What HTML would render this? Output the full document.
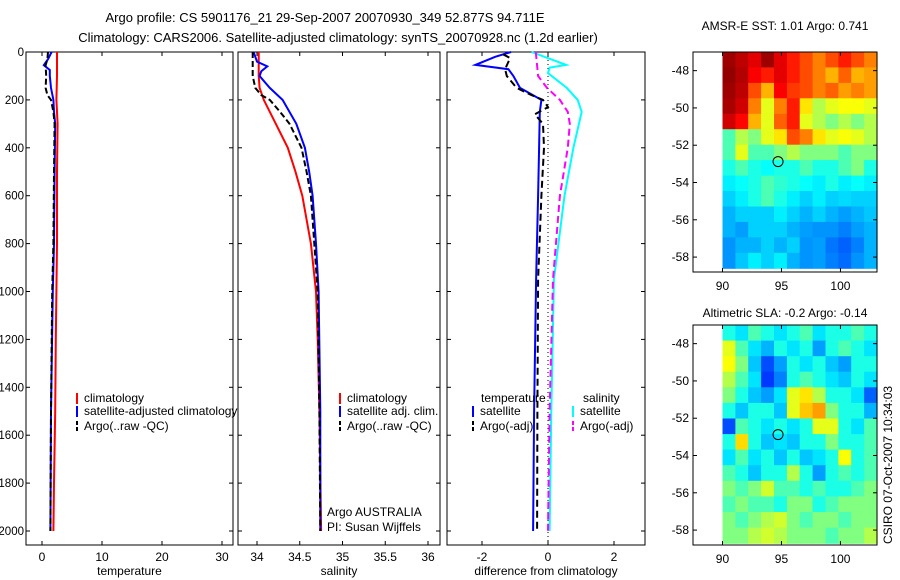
<!DOCTYPE html>
<html><head><meta charset="utf-8">
<style>
body{margin:0;background:#fff;}
svg{display:block;font-family:"Liberation Sans",sans-serif;}
text{fill:#000;}
</style></head>
<body>
<svg id="c" width="900" height="580" viewBox="0 0 900 580" xmlns="http://www.w3.org/2000/svg">
<text x="325" y="22" font-size="13" text-anchor="middle">Argo profile: CS 5901176_21 29-Sep-2007 20070930_349 52.877S 94.711E</text>
<text x="338" y="42" font-size="13" text-anchor="middle">Climatology: CARS2006. Satellite-adjusted climatology: synTS_20070928.nc (1.2d earlier)</text>
</svg>
<script>
// ---- data ----
const pTicks=[0,200,400,600,800,1000,1200,1400,1600,1800,2000];
const tTicks=[0,10,20,30];
const sTicks=[34,34.5,35,35.5,36];
const sTickLabels=["34","34.5","35","35.5","36"];
const dTicks=[-2,0,2];
const tempClimP=[0,100,200,300,500,800,1000,1200,1500,1800,2000];
const tempClim=[2.5,2.5,2.4,2.6,2.5,2.5,2.4,2.3,2.2,2.0,1.9];
const tempSatP=[0,30,55,75,100,150,200,250,300,500,800,1000,1500,2000];
const tempSat=[1.6,1.0,0.3,1.3,1.3,1.5,1.9,2.0,2.2,2.1,2.0,1.8,1.5,1.4];
const tempArgoP=[0,30,55,100,150,180,200,250,300,500,800,1000,1500,2000];
const tempArgo=[1.0,0.9,0.6,0.7,0.6,0.9,1.5,1.9,2.1,2.0,1.9,1.7,1.5,1.4];
const salClimP=[0,100,150,200,300,400,500,600,800,1000,1200,1500,2000];
const salClim=[34.02,34.02,34.03,34.08,34.22,34.36,34.45,34.53,34.63,34.69,34.71,34.73,34.75];
const salSatP=[0,40,60,80,100,150,200,300,400,500,600,800,1000,1500,2000];
const salSat=[33.96,34.0,34.12,34.05,34.03,34.15,34.3,34.46,34.56,34.61,34.65,34.69,34.72,34.74,34.74];
const salArgoP=[0,100,150,180,200,250,300,400,500,600,800,1000,1500,2000];
const salArgo=[33.95,33.95,33.98,34.05,34.15,34.27,34.38,34.52,34.58,34.63,34.67,34.71,34.73,34.74];
const dTempSatP=[0,20,54,72,100,150,200,250,400,600,950,1500,2000];
const dTempSat=[-1.12,-1.6,-2.2,-1.2,-1.05,-0.85,-0.2,-0.25,-0.27,-0.3,-0.36,-0.42,-0.45];
const dTempArgoP=[10,25,72,100,150,180,200,230,260,300,400,600,950,1500,2000];
const dTempArgo=[-1.36,-1.15,-1.3,-1.25,-0.95,-0.5,-0.15,0,-0.4,-0.15,-0.12,-0.2,-0.3,-0.32,-0.33];
const dSalSatP=[0,54,65,88,150,200,250,400,600,950,1500,2000];
const dSalSat=[-0.5,0.55,0.05,0,0.57,0.9,1.02,0.77,0.5,0.18,0.1,0.05];
const dSalArgoP=[0,100,150,200,250,300,400,600,950,1500,2000];
const dSalArgo=[-0.37,-0.3,-0.03,0.36,0.6,0.66,0.6,0.36,0.15,0.05,0.0];
const lonTicks=[90,95,100];
const latTicks=[-48,-50,-52,-54,-56,-58];
const sstGrid=[
[.97,.94,.9,.97,.9,.85,.8,.75,.8,.85,.8,.75],
[.98,.95,.88,.85,.9,.85,.8,.75,.7,.78,.7,.72],
[.97,.94,.8,.7,.88,.82,.8,.75,.78,.72,.75,.72],
[.96,.92,.75,.6,.75,.85,.65,.55,.6,.62,.62,.6],
[.92,.87,.7,.6,.78,.85,.6,.55,.5,.55,.5,.55],
[.45,.55,.5,.6,.65,.8,.75,.65,.6,.62,.6,.55],
[.45,.6,.45,.45,.5,.55,.5,.5,.5,.45,.5,.5],
[.4,.45,.4,.38,.4,.4,.45,.4,.4,.45,.5,.4],
[.36,.38,.4,.45,.42,.4,.38,.36,.4,.36,.38,.36],
[.33,.36,.4,.45,.4,.36,.33,.36,.33,.34,.33,.33],
[.3,.33,.33,.33,.36,.33,.3,.33,.3,.28,.3,.32],
[.3,.28,.33,.33,.33,.3,.28,.27,.27,.25,.28,.3],
[.27,.3,.3,.33,.3,.33,.27,.28,.24,.22,.25,.3],
[.27,.32,.36,.33,.36,.3,.27,.28,.25,.23,.27,.3]];
const slaGrid=[
[.4,.35,.45,.4,.35,.4,.45,.35,.4,.4,.45,.4],
[.6,.45,.35,.3,.4,.35,.4,.28,.4,.45,.4,.35],
[.62,.5,.32,.2,.28,.4,.35,.4,.32,.28,.4,.4],
[.55,.45,.35,.18,.25,.4,.45,.4,.35,.32,.4,.35],
[.5,.4,.32,.28,.35,.6,.65,.55,.4,.4,.35,.22],
[.4,.32,.4,.4,.32,.6,.68,.72,.5,.4,.4,.3],
[.2,.45,.4,.35,.4,.35,.4,.6,.6,.4,.35,.45],
[.4,.66,.4,.32,.35,.32,.4,.4,.5,.4,.4,.45],
[.35,.45,.35,.4,.32,.4,.32,.35,.4,.62,.4,.45],
[.45,.4,.32,.4,.4,.55,.4,.28,.4,.45,.4,.45],
[.5,.45,.5,.58,.45,.45,.4,.45,.4,.4,.45,.5],
[.45,.5,.45,.45,.4,.5,.5,.4,.45,.5,.5,.5],
[.5,.45,.5,.55,.58,.5,.45,.5,.5,.45,.5,.5],
[.5,.5,.55,.58,.55,.5,.5,.5,.45,.5,.5,.55]];
const argoLon=94.711, argoLat=-52.877;

// ---- helpers ----
const svg=document.getElementById('c');
const NS="http://www.w3.org/2000/svg";
function mk(tag,attrs,parent){const e=document.createElementNS(NS,tag);for(const k in attrs)e.setAttribute(k,attrs[k]);(parent||svg).appendChild(e);return e;}
function txt(x,y,s,size,anchor,parent){const t=mk('text',{x:x,y:y,'font-size':size||12,'text-anchor':anchor||'start'},parent);t.textContent=s;return t;}
const PT=52,PB=545;
const yP=p=>PT+p*0.2395;
function lin(d0,d1,r0,r1){return v=>r0+(v-d0)*(r1-r0)/(d1-d0);}
const xT=lin(0,30,42,222), xS=lin(34,36,257,428), xD=lin(-2,2,482,614);

function panel(x0,x1,name,ticks,labels,xf,leftLabels,xlabel){
  const g=mk('g',{});
  
  
  mk('rect',{x:x0,y:PT,width:x1-x0,height:PB-PT,fill:'#fff',stroke:'#000','stroke-width':1},g);
  pTicks.forEach(p=>{const y=yP(p);
    mk('line',{x1:x0,x2:x0+4,y1:y,y2:y,stroke:'#000'},g);
    mk('line',{x1:x1-4,x2:x1,y1:y,y2:y,stroke:'#000'},g);
    if(leftLabels){const t=txt(x0-2,y+4,String(p),11.5,'end',g);}
  });
  ticks.forEach((v,i)=>{const x=xf(v);
    mk('line',{x1:x,x2:x,y1:PB,y2:PB-4,stroke:'#000'},g);
    mk('line',{x1:x,x2:x,y1:PT,y2:PT+4,stroke:'#000'},g);
    const t=txt(x,PB+16,labels[i],12,'middle',g);
    
    
  });
  const xl=txt((x0+x1)/2,PB+30,xlabel,12,'middle',g);
  
  
  return g;
}
function series(g,ps,vs,xf,color,dash,name,w){
  const d=ps.map((p,i)=>(i?'L':'M')+xf(vs[i]).toFixed(1)+' '+yP(p).toFixed(1)).join(' ');
  const path=mk('path',{d:d,fill:'none',stroke:color,'stroke-width':w||2,'stroke-dasharray':dash||'none'},g);
  
  
}
function legend(g,x,y,color,dash,label,name){
  const l=mk('line',{x1:x,x2:x,y1:y-9,y2:y+2,stroke:color,'stroke-width':2,'stroke-dasharray':dash||'none'},g);
  const t=txt(x+7,y,label,12,'start',g);
  
  
  
  
}

// panel 1 temperature
const g1=panel(26,233,'temperature-panel',tTicks,tTicks.map(String),xT,true,'temperature');
series(g1,tempClimP,tempClim,xT,'#f00',null,'temp-climatology-line');
series(g1,tempSatP,tempSat,xT,'#00f',null,'temp-satellite-line');
series(g1,tempArgoP,tempArgo,xT,'#000','6,3','temp-argo-line');
legend(g1,77,402,'#f00',null,'climatology','legend-climatology');
legend(g1,77,415,'#00f',null,'satellite-adjusted climatology','legend-satellite-adjusted');
legend(g1,77,430,'#000','4,2','Argo(..raw -QC)','legend-argo');

// panel 2 salinity
const g2=panel(238,440,'salinity-panel',sTicks,sTickLabels,xS,false,'salinity');
series(g2,salClimP,salClim,xS,'#f00',null,'sal-climatology-line');
series(g2,salSatP,salSat,xS,'#00f',null,'sal-satellite-line');
series(g2,salArgoP,salArgo,xS,'#000','6,3','sal-argo-line');
legend(g2,340,402,'#f00',null,'climatology','legend-climatology-2');
legend(g2,340,415,'#00f',null,'satellite adj. clim.','legend-satellite-2');
legend(g2,340,430,'#000','4,2','Argo(..raw -QC)','legend-argo-2');
let a=txt(327,516,'Argo AUSTRALIA',12,'start',g2);
a=txt(327,531,'PI: Susan Wijffels',12,'start',g2);

// panel 3 differences
const g3=panel(447,645,'difference-panel',dTicks,dTicks.map(String),xD,false,'difference from climatology');
mk('line',{x1:xD(0),x2:xD(0),y1:PT,y2:PB,stroke:'#000','stroke-dasharray':'1,3'},g3);
series(g3,dSalSatP,dSalSat,xD,'#0ff',null,'dsal-satellite-line');
series(g3,dSalArgoP,dSalArgo,xD,'#f0f','7,4','dsal-argo-line');
series(g3,dTempSatP,dTempSat,xD,'#00f',null,'dtemp-satellite-line');
series(g3,dTempArgoP,dTempArgo,xD,'#000','7,4','dtemp-argo-line');
a=txt(481,402,'temperature',12,'start',g3);
a=txt(583,402,'salinity',12,'start',g3);
legend(g3,473,415,'#00f',null,'satellite','legend-temp-satellite');
legend(g3,473,430,'#000','4,2','Argo(-adj)','legend-temp-argo');
legend(g3,573,415,'#0ff',null,'satellite','legend-sal-satellite');
legend(g3,573,430,'#f0f','4,2','Argo(-adj)','legend-sal-argo');

// ---- maps ----
function jet(v){v=Math.max(0,Math.min(1,v));
  const r=Math.min(4*v-1.5,-4*v+4.5),g=Math.min(4*v-0.5,-4*v+3.5),b=Math.min(4*v+0.5,-4*v+2.5);
  const c=x=>Math.round(255*Math.max(0,Math.min(1,x)));return`rgb(${c(r)},${c(g)},${c(b)})`;}
function map(top,bot,grid,title,name,latMin,titleY){
  const x0=693,x1=877;
  const xL=lin(87.5,103.1,x0,x1), yL=lin(-47.0,-58.8,top,bot);
  const g=mk('g',{});
  
  
  const rows=grid.length,cols=grid[0].length;
  const lon0=90,lon1=103.1,lat0=-47.0;
  for(let r=0;r<rows;r++)for(let c=0;c<cols;c++){
    const la=lat0+(latMin-lat0)*r/rows, lb=lat0+(latMin-lat0)*(r+1)/rows;
    const lo=lon0+(lon1-lon0)*c/cols, lp=lon0+(lon1-lon0)*(c+1)/cols;
    const cell=mk('rect',{x:xL(lo).toFixed(1),y:yL(la).toFixed(1),width:(xL(lp)-xL(lo)+0.6).toFixed(1),height:(yL(lb)-yL(la)+0.6).toFixed(1),fill:jet(grid[r][c])},g);
    
    
  }
  mk('rect',{x:x0,y:top,width:x1-x0,height:bot-top,fill:'none',stroke:'#000'},g);
  lonTicks.forEach(v=>{const x=xL(v);
    mk('line',{x1:x,x2:x,y1:bot,y2:bot-4,stroke:'#000'},g);mk('line',{x1:x,x2:x,y1:top,y2:top+4,stroke:'#000'},g);
    const t=txt(x,bot+18,String(v),12,'middle',g);});
  latTicks.forEach(v=>{const y=yL(v);
    mk('line',{x1:x0,x2:x0+4,y1:y,y2:y,stroke:'#000'},g);mk('line',{x1:x1-4,x2:x1,y1:y,y2:y,stroke:'#000'},g);
    const t=txt(x0-4,y+4,String(v),12,'end',g);});
  const ci=mk('circle',{cx:xL(argoLon),cy:yL(argoLat),r:5,fill:'none',stroke:'#000','stroke-width':1},g);
  
  
  const t=txt(785,titleY,title,12,'middle',g);
  
  
}
map(52,272,sstGrid,'AMSR-E SST: 1.01 Argo: 0.741','sst-map',-58.6,30);
map(325,545,slaGrid,'Altimetric SLA: -0.2 Argo: -0.14','sla-map',-58.7,317);
const stamp=txt(0,0,'CSIRO 07-Oct-2007 10:34:03',12,'middle');
stamp.setAttribute('transform','translate(892,465) rotate(-90)');


</script>
</body></html>
